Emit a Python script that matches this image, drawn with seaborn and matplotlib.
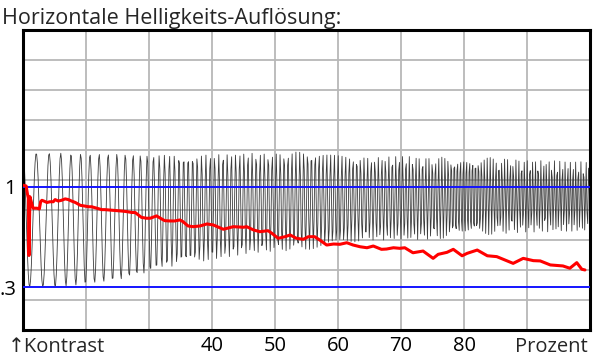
import numpy as np
import matplotlib
matplotlib.use('Agg')
import matplotlib.pyplot as plt
import seaborn as sns

# red curve: measured contrast over the frequency sweep (x in percent)
red_pct = [10.0, 10.5, 10.7, 10.85, 10.95, 11.1, 11.4, 11.6, 12.2, 12.6, 12.8, 13.0, 13.3, 13.8,
           14.3, 14.8, 15.1, 15.6, 16.1, 16.7, 17.2, 17.7, 18.3, 19.1, 19.8, 20.4, 20.9, 21.7,
           22.5, 23.0, 23.8, 24.9, 25.7, 26.5, 27.3, 27.8, 28.3, 28.8, 29.6, 30.2, 31.2, 32.0,
           32.5, 33.3, 34.1, 34.9, 35.4, 36.2, 37.0, 38.1, 39.2, 40.2, 41.8, 43.4, 45.0, 45.5,
           46.6, 47.6, 48.9, 49.5, 50.5, 51.6, 52.4, 53.4, 54.5, 55.3, 56.3, 57.1, 58.2, 59.3,
           60.3, 61.4, 62.4, 63.5, 64.6, 65.6, 66.9, 67.7, 68.8, 69.8, 70.6, 71.9, 73.5, 75.1,
           75.9, 77.3, 78.3, 79.7, 80.5, 82.1, 83.7, 85.2, 87.8, 89.4, 91.0, 92.1, 93.7, 95.7,
           96.8, 97.9, 98.7, 99.2]
red_val = [1.01, 1.005, 0.95, 0.92, 0.52, 0.93, 0.88, 0.85, 0.85, 0.845, 0.895, 0.905, 0.90, 0.89,
           0.895, 0.895, 0.91, 0.90, 0.905, 0.915, 0.91, 0.90, 0.89, 0.87, 0.865, 0.86, 0.86, 0.85,
           0.84, 0.84, 0.837, 0.833, 0.83, 0.826, 0.82, 0.82, 0.803, 0.786, 0.78, 0.78, 0.796, 0.775,
           0.763, 0.761, 0.761, 0.768, 0.756, 0.726, 0.721, 0.726, 0.740, 0.733, 0.703, 0.721, 0.717, 0.721,
           0.698, 0.686, 0.693, 0.675, 0.640, 0.651, 0.663, 0.640, 0.633, 0.651, 0.651, 0.628, 0.593, 0.600,
           0.598, 0.609, 0.593, 0.581, 0.574, 0.586, 0.563, 0.565, 0.574, 0.570, 0.574, 0.539, 0.551, 0.500,
           0.528, 0.542, 0.563, 0.518, 0.535, 0.558, 0.518, 0.512, 0.465, 0.500, 0.484, 0.482, 0.454, 0.447,
           0.431, 0.470, 0.424, 0.419]

# black test signal: upper / lower envelope
env_pct = [10, 15, 20, 25, 30, 35, 40, 45, 50, 55, 60, 65, 70, 75, 80, 85, 90, 95, 100]
env_top = [1.235, 1.235, 1.228, 1.228, 1.221, 1.221, 1.221, 1.235, 1.228, 1.249, 1.221, 1.200,
           1.214, 1.200, 1.221, 1.200, 1.186, 1.180, 1.172]
env_bot = [0.300, 0.300, 0.321, 0.349, 0.405, 0.460, 0.488, 0.530, 0.551, 0.558, 0.600, 0.628,
           0.628, 0.635, 0.642, 0.670, 0.684, 0.684, 0.684]
# length of one oscillation (in percent) along the sweep
per_pct = [10, 13, 15, 17, 20, 23, 26, 28, 30, 32, 35, 40, 50, 60, 70, 80, 90, 100]
per_len = [2.1, 2.1, 1.86, 1.59, 1.48, 1.43, 1.32, 1.16, 1.03, 0.83, 0.73, 0.68, 0.63, 0.60,
           0.54, 0.48, 0.44, 0.41]

ref_levels = [1.0, 0.3]
ref_labels = ['1', '.3']
x_ticks = [40, 50, 60, 70, 80]
y_top = 2.0935

# build the sampled sweep
step = 0.12
xs = np.arange(10, 100.0001, step)
freq = 1.0 / np.interp(xs, per_pct, per_len)
phase = 2 * np.pi * (np.cumsum(freq) - freq[0]) * step
top = np.interp(xs, env_pct, env_top)
bot = np.interp(xs, env_pct, env_bot)
sig = (top + bot) / 2 + (top - bot) / 2 * np.cos(phase)

sns.set_style('white')
plt.rcParams['font.family'] = ['Open Sans', 'DejaVu Sans']

fig = plt.figure(figsize=(6, 3.64), dpi=100)
ax = fig.add_axes([23 / 600, 34 / 364, 567 / 600, 300 / 364])

ax.set_xlim(10, 100)
ax.set_ylim(0, y_top)
ax.set_xticks(np.arange(20, 100, 10), minor=True)
ax.set_yticks(np.arange(1, 10) * y_top / 10, minor=True)
ax.grid(which='minor', color='#b8b8b8', lw=1.3)
ax.yaxis.grid(False, which='major')
ax.xaxis.grid(True, which='major', color='#b8b8b8', lw=1.3)
ax.set_axisbelow(True)

sns.lineplot(x=xs, y=sig, ax=ax, color='#3c3c3c', lw=0.6, estimator=None, sort=False, zorder=2)
for lv in ref_levels:
    ax.axhline(lv, color='#1414ff', lw=1.4, zorder=3)
sns.lineplot(x=red_pct, y=red_val, ax=ax, color='#ff0000', lw=2.2, estimator=None, sort=False, zorder=4)

ax.set_xticks(x_ticks)
ax.set_xticklabels([str(t) for t in x_ticks])
ax.set_yticks(ref_levels)
ax.set_yticklabels(ref_labels)
ax.tick_params(which='both', length=0, labelsize=14.5, colors='black')
ax.tick_params(axis='x', pad=4)
ax.tick_params(axis='y', pad=5)
ax.set_xlabel('')
ax.set_ylabel('')
for s in ax.spines.values():
    s.set_visible(True)
    s.set_color('black')
    s.set_linewidth(2.2)

fig.text(2 / 600, 1 - 24 / 364, 'Horizontale Helligkeits-Auflösung:', fontsize=15.5,
         ha='left', va='baseline')
fig.text(8 / 600, 1 - 352 / 364, '↑Kontrast', fontsize=14.5, ha='left', va='baseline')
fig.text(588 / 600, 1 - 352 / 364, 'Prozent', fontsize=14.5, ha='right', va='baseline')

fig.savefig('out.png', dpi=100)
